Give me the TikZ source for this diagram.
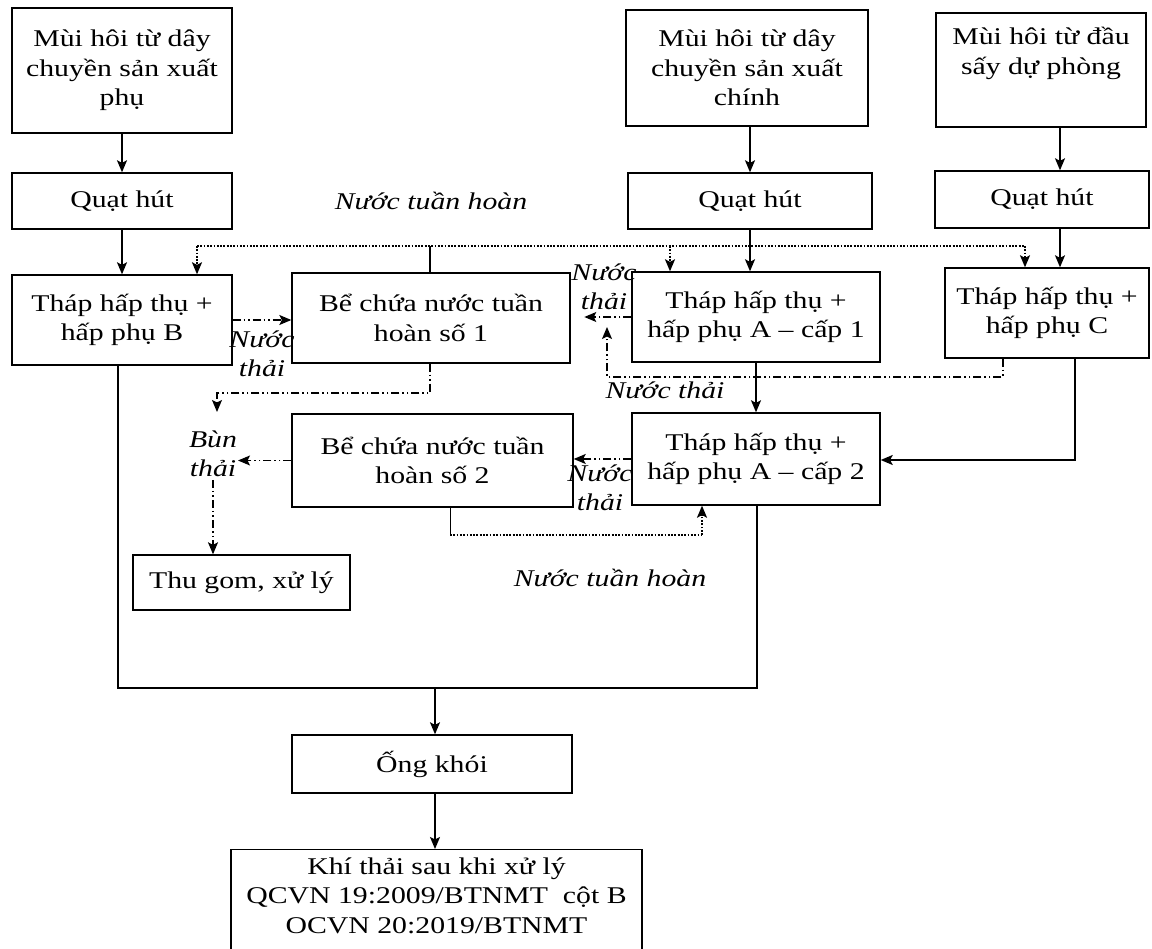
\documentclass[tikz,border=0pt]{standalone}
\usepackage{fontspec}
\setmainfont{Liberation Serif}[FakeStretch=1.24]
\usetikzlibrary{arrows.meta}
\newcommand\diagfont{\fontsize{24}{29.5}\selectfont}

\begin{document}
\begin{tikzpicture}[x=1pt,y=-1pt,
  box/.style={draw, line width=1.4pt, inner sep=2pt, align=center, font=\diagfont},
  lbl/.style={font=\diagfont\itshape, align=center, inner sep=0pt},
  tip/.style={-{Stealth[length=12pt,width=10pt,inset=2.5pt]}},
  flow/.style={line width=1.3pt},
  waste/.style={line width=1.2pt, dash pattern=on 8pt off 3pt on 1.5pt off 3pt on 1.5pt off 3pt},
  recyc/.style={line width=1.4pt, dash pattern=on 1.8pt off 1.5pt},
]
\useasboundingbox (0,0) rectangle (1152,949);
\clip (0,0) rectangle (1152,949);

% ---- sources and fans
\node[box, minimum width=220pt, minimum height=125pt] (src1) at (122,70.5)
  {Mùi hôi từ dây\\chuyền sản xuất\\phụ};
\node[box, minimum width=220pt, minimum height=56pt] (q1) at (122,201) {Quạt hút};
\node[box, minimum width=242pt, minimum height=116pt] (src2) at (747,68)
  {Mùi hôi từ dây\\chuyền sản xuất\\chính};
\node[box, minimum width=244pt, minimum height=56pt] (q2) at (750,201) {Quạt hút};
\node[box, minimum width=210pt, minimum height=114pt] (src3) at (1041,70)
  {Mùi hôi từ đầu\\sấy dự phòng\\\strut};
\node[box, minimum width=214pt, minimum height=57pt] (q3) at (1042,199.5) {Quạt hút};

% ---- towers and tanks
\node[box, minimum width=220pt, minimum height=90pt] (tb) at (122,320)
  {Tháp hấp thụ +\\hấp phụ B};
\node[box, minimum width=278pt, minimum height=90pt] (be1) at (431,318)
  {Bể chứa nước tuần\\hoàn số 1};
\node[box, minimum width=248pt, minimum height=90pt] (a1) at (756,317)
  {Tháp hấp thụ +\\hấp phụ A – cấp 1};
\node[box, minimum width=204pt, minimum height=90pt] (c) at (1047,313)
  {Tháp hấp thụ +\\hấp phụ C};
\node[box, minimum width=248pt, minimum height=92pt] (a2) at (756,459)
  {Tháp hấp thụ +\\hấp phụ A – cấp 2};
\node[box, minimum width=281pt, minimum height=93pt] (be2) at (432.5,460.5)
  {Bể chứa nước tuần\\hoàn số 2};
\node[box, minimum width=217pt, minimum height=55pt] (thugom) at (241.5,582.5)
  {Thu gom, xử lý};
\node[box, minimum width=280pt, minimum height=58pt] (ongkhoi) at (432,764)
  {Ống khói};
\node[box, minimum width=411pt, anchor=north, inner ysep=8pt] (final) at (436.5,849)
  {Khí thải sau khi xử lý\\QCVN 19:2009/BTNMT\ \ cột B\\OCVN 20:2019/BTNMT\\\strut};

% ---- italic labels
\node[lbl] (lrec1) at (431,201) {Nước tuần hoàn};
\node[lbl] (lw1) at (262,354) {Nước\\thải};
\node[lbl] (lw2) at (604,287) {Nước\\thải};
\node[lbl] (lw3) at (665,390) {Nước thải};
\node[lbl] (lsl) at (213,454) {Bùn\\thải};
\node[lbl] (lw4) at (600,488) {Nước\\thải};
\node[lbl] (lrec2) at (610,578) {Nước tuần hoàn};

% ---- helper coordinates
\coordinate (x2) at (750,0);
\coordinate (x3) at (1060,0);
\coordinate (rB) at (197,246);
\coordinate (rM) at (430,246);
\coordinate (rA) at (670,246);
\coordinate (rC) at (1025,246);
\coordinate (jl) at (118,688);
\coordinate (jm) at (435,688);
\coordinate (jr) at (757,688);
\coordinate (cr) at (1075,460);
\coordinate (w3a) at (1003,377);
\coordinate (w3b) at (607,377);
\coordinate (w3c) at (607,327);
\coordinate (w4a) at (430,393);
\coordinate (w4b) at (217,393);
\coordinate (w4c) at (217,412);
\coordinate (w5) at (238,460.5);
\coordinate (w6) at (213,480);
\coordinate (r2a) at (450,535);
\coordinate (r2b) at (702,535);

% ---- gas flow
\draw[flow, tip] (src1) -- (q1);
\draw[flow, tip] (q1) -- (tb);
\draw[flow, tip] (src2.south -| x2) -- (q2.north -| x2);
\draw[flow, tip] (q2.south -| x2) -- (a1.north -| x2);
\draw[flow, tip] (src3.south -| x3) -- (q3.north -| x3);
\draw[flow, tip] (q3.south -| x3) -- (c.north -| x3);
\draw[flow, tip] (a1) -- (a2);
\draw[flow, tip] (c.south -| cr) -- (cr) -- (a2.east |- cr);
\draw[flow] (tb.south -| jl) -- (jl) -- (jr) -- (a2.south -| jr);
\draw[flow, tip] (jm) -- (ongkhoi.north -| jm);
\draw[flow, tip] (ongkhoi.south -| jm) -- (final.north -| jm);

% ---- recirculated water from tank 1
\draw[flow] (be1.north -| rM) -- (rM);
\draw[recyc] (rB) -- (rC);
\draw[recyc, tip] (rB) -- (tb.north -| rB);
\draw[recyc, tip] (rA) -- (a1.north -| rA);
\draw[recyc, tip] (rC) -- (c.north -| rC);

% ---- waste water and sludge
\draw[waste, tip] (tb.east) -- (tb.east -| be1.west);
\draw[waste, tip] (a1.west) -- ++(-47,0) coordinate (w2);
\draw[waste, tip] (c.south -| w3a) -- (w3a) -- (w3b) -- (w3c);
\draw[waste, tip] (be1.south -| w4a) -- (w4a) -- (w4b) -- (w4c);
\draw[waste, tip] (be2.west) -- (w5);
\draw[waste, tip] (w6) -- (thugom.north -| w6);
\draw[waste, tip] (a2.west) -- (a2.west -| be2.east);

% ---- recirculated water from tank 2
\draw[line width=1pt] (be2.south -| r2a) -- (r2a);
\draw[recyc] (r2a) -- (r2b);
\draw[recyc, tip] (r2b) -- (a2.south -| r2b);
\end{tikzpicture}
\end{document}
